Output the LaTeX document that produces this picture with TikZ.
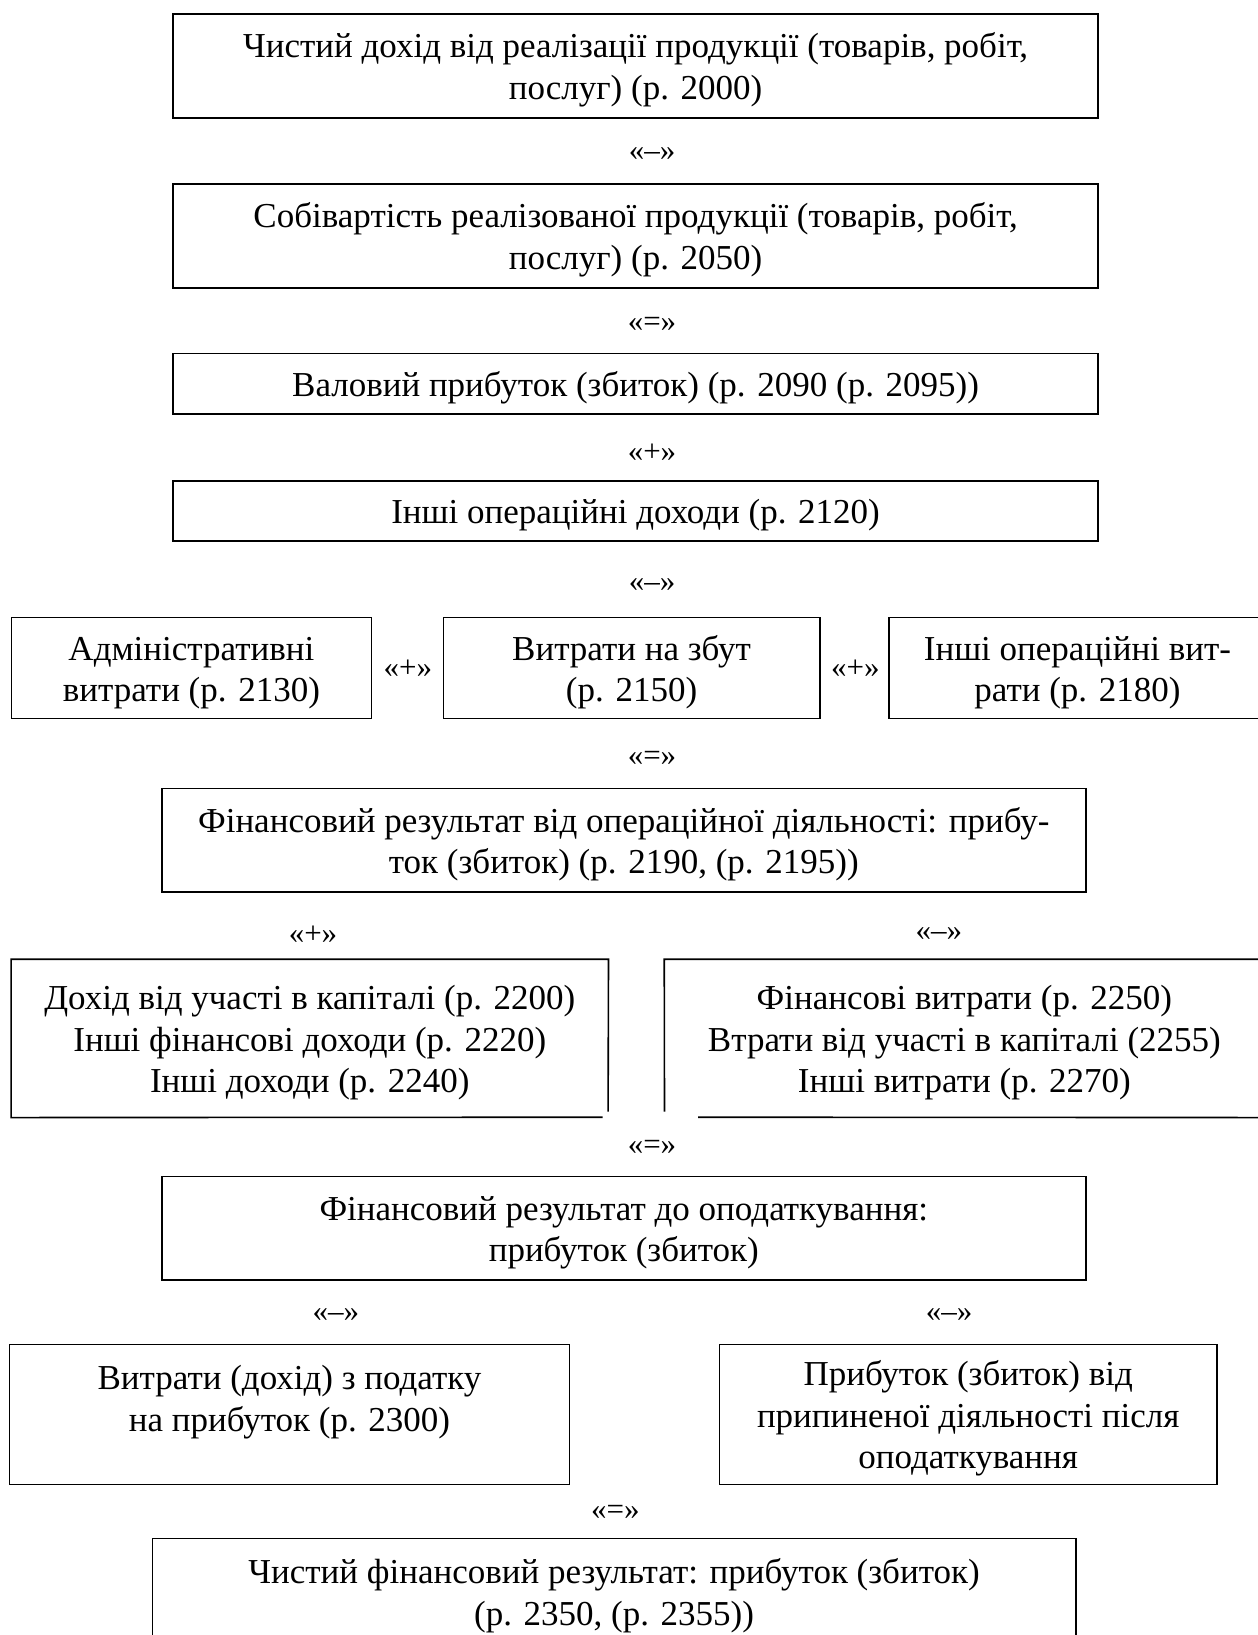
\documentclass[tikz,border=0pt]{standalone}
\usepackage{fontspec}
\setmainfont{Liberation Serif}
\usepackage{tikz}
\newcommand\boxfont{\fontsize{17.5pt}{20.75pt}\selectfont}
\newcommand\opfont{\fontsize{15.5pt}{18pt}\selectfont}
\newcommand\topstrut{\rule{0pt}{16.5pt}}

\begin{document}
\begin{tikzpicture}[x=0.5pt,y=-0.5pt,
  frame/.style={line width=0.8pt},
  plain/.style={inner sep=0pt,align=center,font=\boxfont},
  box/.style={plain,draw,frame},
  op/.style={inner sep=0pt,font=\opfont}]
  \useasboundingbox (0,0) rectangle (1258,1635);
  \clip (0,0) rectangle (1258,1635);

  \node[box,minimum width=462.5pt,minimum height=52pt] (rev) at (635.6,65.7)
    {\topstrut Чистий дохід від реалізації продукції (товарів, робіт,\\послуг) (р. 2000)};
  \node[op] (o1) at (652,154) {«–»};
  \node[box,minimum width=462.5pt,minimum height=52pt] (cost) at (635.6,235.7)
    {\topstrut Собівартість реалізованої продукції (товарів, робіт,\\послуг) (р. 2050)};
  \node[op] (o2) at (652,324) {«=»};
  \node[box,minimum width=462.5pt,minimum height=30.25pt] (gross) at (635.6,383.9)
    {\topstrut Валовий прибуток (збиток) (р. 2090 (р. 2095))};
  \node[op] (o3) at (652,452.6) {«+»};
  \node[box,minimum width=462.5pt,minimum height=30.25pt] (opinc) at (635.6,511)
    {\topstrut Інші операційні доходи (р. 2120)};
  \node[op] (o4) at (652,585) {«–»};

  \node[box,minimum width=179.9pt,minimum height=50.6pt] (adm) at (191.4,668)
    {\topstrut Адміністративні\\витрати (р. 2130)};
  \node[op] (o5) at (407.9,668.5) {«+»};
  \node[box,minimum width=188.3pt,minimum height=50.6pt] (sale) at (631.6,668)
    {\topstrut Витрати на збут\\(р. 2150)};
  \node[op] (o6) at (855.3,668.5) {«+»};
  \node[box,minimum width=188.7pt,minimum height=50.6pt] (opexp) at (1077.5,668)
    {\topstrut Інші операційні вит-\\рати (р. 2180)};
  \node[op] (o7) at (652,758.2) {«=»};

  \node[box,minimum width=462.1pt,minimum height=51.7pt] (opres) at (623.8,840.2)
    {\topstrut Фінансовий результат від операційної діяльності: прибу-\\ток (збиток) (р. 2190, (р. 2195))};
  \node[op] (o8) at (313,934.5) {«+»};
  \node[op] (o9) at (938.8,934.5) {«–»};

  \node[plain,minimum width=298.3pt,minimum height=78.75pt] (finc) at (309.8,1038.4)
    {\topstrut Дохід від участі в капіталі (р. 2200)\\Інші фінансові доходи (р. 2220)\\Інші доходи (р. 2240)};
  \node[plain,minimum width=299.75pt,minimum height=78.75pt] (fexp) at (964.4,1038.4)
    {\topstrut Фінансові витрати (р. 2250)\\Втрати від участі в капіталі (2255)\\Інші витрати (р. 2270)};
  \coordinate (fincb) at (602.7,1117.2);
  \coordinate (fincr) at (608.1,1111.7);
  \coordinate (fexpl) at (664.5,1111.7);
  \coordinate (fexpb) at (698,1117.2);
  \draw[frame] (fincb) -- (finc.south west) -- (finc.north west) -- (finc.north east) -- (fincr);
  \draw[frame] (fexpl) -- (fexp.north west) -- (fexp.north east) -- (fexp.south east) -- (fexpb);
  \node[op] (o10) at (652,1147.3) {«=»};

  \node[box,minimum width=462.1pt,minimum height=51.7pt] (pretax) at (623.8,1228.3)
    {\topstrut Фінансовий результат до оподаткування:\\прибуток (збиток)};
  \node[op] (o11) at (335.9,1315.2) {«–»};
  \node[op] (o12) at (949.2,1315.2) {«–»};

  \node[box,minimum width=280pt,minimum height=69.85pt] (tax) at (289.5,1414.5)
    {\topstrut Витрати (дохід) з податку\\на прибуток (р. 2300)\\\mbox{}};
  \node[box,minimum width=248.7pt,minimum height=69.85pt] (disc) at (968.2,1414.5)
    {\topstrut Прибуток (збиток) від\\припиненої діяльності після\\оподаткування};
  \node[op] (o13) at (615.4,1512.4) {«=»};

  \node[box,minimum width=461.7pt,minimum height=53.4pt] (net) at (614.1,1591.7)
    {\topstrut Чистий фінансовий результат: прибуток (збиток)\\(р. 2350, (р. 2355))};
\end{tikzpicture}
\end{document}
